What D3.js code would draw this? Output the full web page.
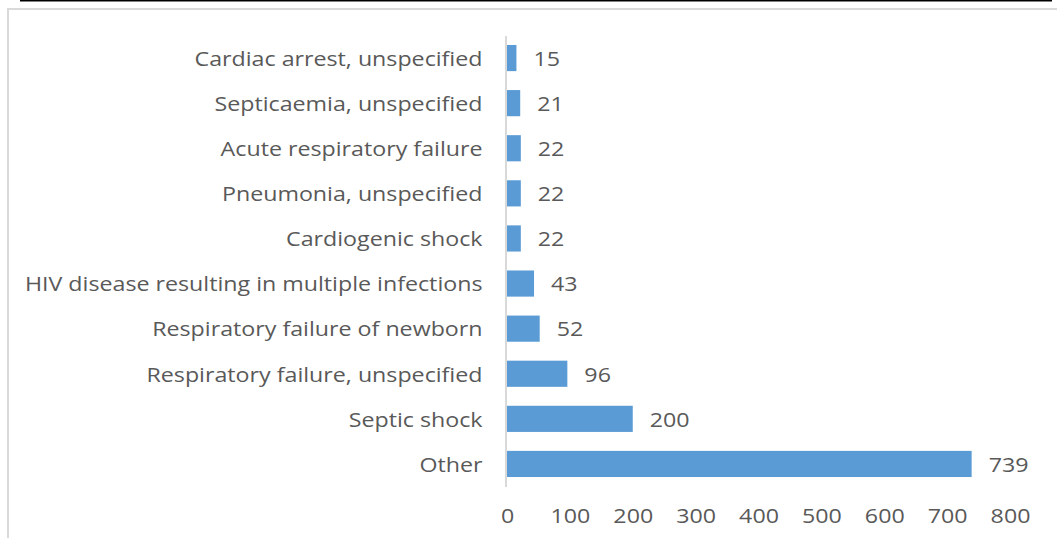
<!DOCTYPE html>
<html>
<head>
<meta charset="utf-8">
<script src="https://cdn.jsdelivr.net/npm/d3@7"></script>
<style>
  body { margin: 0; background: #fff; }
  text { font-family: "Open Sans", "Liberation Sans", sans-serif; fill: #595959; }
</style>
</head>
<body>
<div id="chart"></div>
<script>
// categories from top to bottom
let causes = [
    'Cardiac arrest, unspecified',
    'Septicaemia, unspecified',
    'Acute respiratory failure',
    'Pneumonia, unspecified',
    'Cardiogenic shock',
    'HIV disease resulting in multiple infections',
    'Respiratory failure of newborn',
    'Respiratory failure, unspecified',
    'Septic shock',
    'Other'
];
let deaths = [15, 21, 22, 22, 22, 43, 52, 96, 200, 739];
let tickValues = [0, 100, 200, 300, 400, 500, 600, 700, 800];

let svgWidth = 1057, svgHeight = 538;
let fontSize = 19.5;
let stretch = 1.19;   // the original text is drawn wider than it is tall

let svg = d3.select('#chart').append('svg')
    .attr('width', svgWidth)
    .attr('height', svgHeight);

// black rule across the top and grey frame
svg.append('line')
    .attr('x1', 20).attr('x2', 1052)
    .attr('y1', 0.5).attr('y2', 0.5)
    .attr('stroke', '#000').attr('stroke-width', 2);

svg.append('rect')
    .attr('x', 8).attr('y', 9)
    .attr('width', 1070).attr('height', 560)
    .attr('fill', 'none')
    .attr('stroke', '#d9d9d9').attr('stroke-width', 2);

let data = causes.map(function (c, i) {
    return {cause: c, value: deaths[i]};
});

let x = d3.scaleLinear().domain([0, 800]).range([507, 1010]);
let y = d3.scaleBand().domain(causes).range([35.5, 486.5]).paddingInner(0.42).paddingOuter(0.21);

// bars
svg.selectAll('rect.bar').data(data)
    .enter()
    .append('rect')
    .attr('class', 'bar')
    .attr('x', x(0))
    .attr('y', function (d) { return y(d.cause); })
    .attr('width', function (d) { return x(d.value) - x(0); })
    .attr('height', y.bandwidth())
    .attr('fill', '#5b9bd5');

// y axis line (no ticks)
let yAxis = d3.axisLeft(y).tickSize(0).tickPadding(23);
let yg = svg.append('g')
    .attr('transform', 'translate(' + (x(0) - 1.5) + ',0)')
    .call(yAxis);
yg.select('.domain')
    .attr('stroke', '#d9d9d9').attr('stroke-width', 2);
yg.selectAll('text')
    .attr('dy', '0.4em')
    .style('font-size', fontSize + 'px')
    .style('fill', '#595959');

// x axis labels only
let xAxis = d3.axisBottom(x).tickValues(tickValues).tickSize(0).tickPadding(0);
let xg = svg.append('g')
    .attr('transform', 'translate(0,509)')
    .call(xAxis);
xg.select('.domain').remove();
xg.selectAll('text')
    .style('font-size', fontSize + 'px')
    .style('fill', '#595959');

// value labels
svg.selectAll('text.value').data(data)
    .enter()
    .append('text')
    .attr('class', 'value')
    .attr('x', function (d) { return x(d.value) + 17; })
    .attr('y', function (d) { return y(d.cause) + y.bandwidth() / 2; })
    .attr('dy', '0.4em')
    .style('font-size', fontSize + 'px')
    .text(function (d) { return d.value; });

// widen every label
svg.selectAll('text').each(function () {
    let w = this.getComputedTextLength();
    d3.select(this)
        .attr('textLength', w * stretch)
        .attr('lengthAdjust', 'spacingAndGlyphs');
});
</script>
</body>
</html>
